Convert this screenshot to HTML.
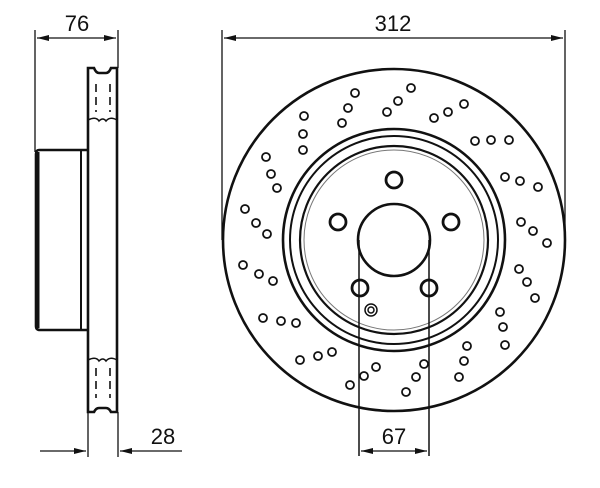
<!DOCTYPE html>
<html><head><style>
html,body{margin:0;padding:0;background:#fff;}
svg{display:block;}
text{font-family:"Liberation Sans",sans-serif;fill:#111;}
</style></head><body>
<svg width="600" height="488" viewBox="0 0 600 488" xmlns="http://www.w3.org/2000/svg">
<defs>
<marker id="a" viewBox="0 0 12 6" refX="12" refY="3" markerWidth="12" markerHeight="6" orient="auto-start-reverse" markerUnits="userSpaceOnUse"><path d="M0,0 L12,3 L0,6 Z" fill="#111"/></marker>
</defs>
<g stroke="#111" fill="none">
<line x1="35" y1="30" x2="35" y2="152" stroke-width="1.3"/>
<line x1="118" y1="30" x2="118" y2="68" stroke-width="1.3"/>
<line x1="37" y1="38" x2="116" y2="38" stroke-width="1.3" marker-start="url(#a)" marker-end="url(#a)"/>
<path d="M88,68 L94,68 Q96,73 99,73 L106,73 Q109,73 111,68 L117,68 L117,412 L111,412 Q109,408 106,408 L99,408 Q96,408 94,412 L88,412 Z" stroke-width="2.6"/>
<path d="M88,120 Q96,116 99,121 Q103,117 106,121 Q110,116 117,120" stroke-width="1.5"/>
<path d="M88,360 Q96,356 99,361 Q103,357 106,361 Q110,356 117,360" stroke-width="1.5"/>
<line x1="96" y1="84" x2="96" y2="112" stroke-width="1.6" stroke-dasharray="8,5"/>
<line x1="110" y1="84" x2="110" y2="112" stroke-width="1.6" stroke-dasharray="8,5"/>
<line x1="96" y1="368" x2="96" y2="398" stroke-width="1.6" stroke-dasharray="8,5"/>
<line x1="110" y1="368" x2="110" y2="398" stroke-width="1.6" stroke-dasharray="8,5"/>
<path d="M88,150 L39,150 Q36,150 36,154 L36,326 Q36,330 40,330 L88,330" stroke-width="2.6"/>
<line x1="38" y1="152" x2="38" y2="328" stroke-width="3"/>
<line x1="81" y1="150" x2="81" y2="330" stroke-width="2"/>
<line x1="88" y1="412" x2="88" y2="457" stroke-width="1.3"/>
<line x1="118" y1="412" x2="118" y2="457" stroke-width="1.3"/>
<line x1="40" y1="451" x2="86" y2="451" stroke-width="1.3" marker-end="url(#a)"/>
<line x1="182" y1="451" x2="120" y2="451" stroke-width="1.3" marker-end="url(#a)"/>
<line x1="222" y1="30" x2="222" y2="240" stroke-width="1.3"/>
<line x1="565" y1="30" x2="565" y2="240" stroke-width="1.3"/>
<line x1="224" y1="38" x2="563" y2="38" stroke-width="1.3" marker-start="url(#a)" marker-end="url(#a)"/>
<circle cx="394" cy="240" r="171" stroke-width="2.6"/>
<circle cx="394" cy="240" r="111" stroke-width="2.6"/>
<circle cx="394" cy="240" r="104" stroke-width="2"/>
<circle cx="394" cy="240" r="94" stroke-width="2.2"/>
<circle cx="394" cy="240" r="90" stroke-width="1" stroke="#777"/>
<circle cx="394" cy="240" r="36" stroke-width="2.6"/>
<g stroke-width="2.8">
<circle cx="394" cy="180" r="8"/>
<circle cx="338" cy="222" r="8"/>
<circle cx="451" cy="222" r="8"/>
<circle cx="360" cy="288" r="8"/>
<circle cx="429" cy="288" r="8"/>
</g>
<circle cx="371" cy="310" r="6" stroke-width="1.5"/>
<circle cx="371" cy="310" r="3" stroke-width="1.5"/>
<line x1="359" y1="240" x2="359" y2="456" stroke-width="1.5"/>
<line x1="429" y1="240" x2="429" y2="456" stroke-width="1.5"/>
<line x1="361" y1="451" x2="427" y2="451" stroke-width="1.3" marker-start="url(#a)" marker-end="url(#a)"/>
<g stroke-width="1.8">
<circle cx="355" cy="93" r="4"/><circle cx="411" cy="88" r="4"/><circle cx="348" cy="108" r="4"/><circle cx="398" cy="101" r="4"/><circle cx="342" cy="123" r="4"/><circle cx="387" cy="112" r="4"/><circle cx="464" cy="104" r="4"/><circle cx="448" cy="112" r="4"/><circle cx="434" cy="118" r="4"/><circle cx="304" cy="116" r="4"/><circle cx="303" cy="134" r="4"/><circle cx="303" cy="150" r="4"/><circle cx="475" cy="141" r="4"/><circle cx="491" cy="140" r="4"/><circle cx="509" cy="140" r="4"/><circle cx="266" cy="157" r="4"/><circle cx="271" cy="174" r="4"/><circle cx="277" cy="188" r="4"/><circle cx="505" cy="177" r="4"/><circle cx="520" cy="181" r="4"/><circle cx="538" cy="187" r="4"/><circle cx="245" cy="209" r="4"/><circle cx="256" cy="223" r="4"/><circle cx="267" cy="234" r="4"/><circle cx="521" cy="222" r="4"/><circle cx="533" cy="231" r="4"/><circle cx="547" cy="243" r="4"/><circle cx="243" cy="265" r="4"/><circle cx="259" cy="274" r="4"/><circle cx="273" cy="281" r="4"/><circle cx="519" cy="269" r="4"/><circle cx="527" cy="282" r="4"/><circle cx="535" cy="298" r="4"/><circle cx="263" cy="318" r="4"/><circle cx="281" cy="321" r="4"/><circle cx="296" cy="323" r="4"/><circle cx="500" cy="312" r="4"/><circle cx="503" cy="327" r="4"/><circle cx="505" cy="345" r="4"/><circle cx="300" cy="360" r="4"/><circle cx="318" cy="356" r="4"/><circle cx="332" cy="352" r="4"/><circle cx="467" cy="346" r="4"/><circle cx="464" cy="361" r="4"/><circle cx="459" cy="377" r="4"/><circle cx="376" cy="367" r="4"/><circle cx="364" cy="376" r="4"/><circle cx="350" cy="385" r="4"/><circle cx="424" cy="364" r="4"/><circle cx="416" cy="377" r="4"/><circle cx="406" cy="392" r="4"/>
</g>
</g>
<text x="77" y="31" font-size="22" text-anchor="middle">76</text>
<text x="393" y="31" font-size="22" text-anchor="middle">312</text>
<text x="163" y="444" font-size="22" text-anchor="middle">28</text>
<text x="394" y="444" font-size="22" text-anchor="middle">67</text>
</svg>
</body></html>
